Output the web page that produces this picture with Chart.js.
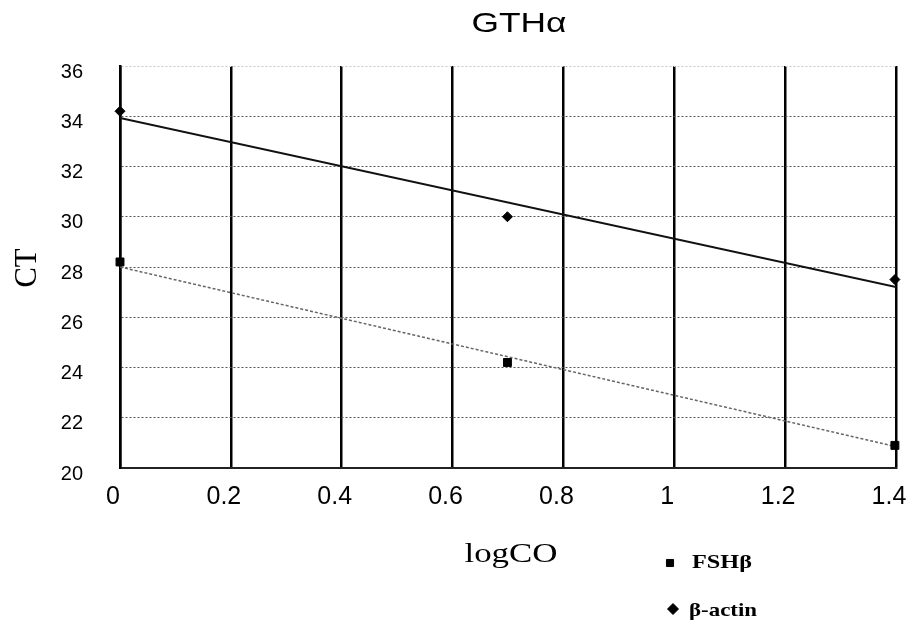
<!DOCTYPE html>
<html><head><meta charset="utf-8">
<style>html,body{margin:0;padding:0;background:#fff;} #wrap{width:918px;height:623px;position:relative;}</style>
<script src="https://cdn.jsdelivr.net/npm/chart.js@4.4.1/dist/chart.umd.min.js"></script>
</head><body><div id="wrap"><canvas id="c" width="918" height="623"></canvas></div>
<script>
const chartTitle = 'GTHα';
const xTitle = 'logCO';
const yTitle = 'CT';
const seriesLabels = ['FSHβ', 'β-actin'];
const logCO = [0, 0.699, 1.398];
const fshB = [28.2, 24.2, 20.9];
const bActin = [34.2, 30.0, 27.5];
const trendX = [0, 1.4];
const fshTrend = [28.0, 20.85];
const actinTrend = [33.93, 27.2];
const xTickValues = [0, 0.2, 0.4, 0.6, 0.8, 1, 1.2, 1.4];
const xTickLabels = ['0', '0.2', '0.4', '0.6', '0.8', '1', '1.2', '1.4'];
const yTickValues = [20, 22, 24, 26, 28, 30, 32, 34, 36];
const yTickLabels = ['20', '22', '24', '26', '28', '30', '32', '34', '36'];

const pts = (xs, ys) => xs.map((x, i) => ({x, y: ys[i]}));

// draw text stretched horizontally to a target width
function wideText(ctx, text, x, y, font, targetW, align) {
  ctx.font = font;
  ctx.textAlign = 'left';
  ctx.textBaseline = 'alphabetic';
  const w = ctx.measureText(text).width;
  const sx = targetW / w;
  const left = align === 'center' ? x - targetW / 2 : x;
  ctx.save();
  ctx.translate(left, y);
  ctx.scale(sx, 1);
  ctx.fillText(text, 0, 0);
  ctx.restore();
}

const textPlugin = {
  id: 'texts',
  afterDraw(chart) {
    const ctx = chart.ctx;
    ctx.save();
    ctx.fillStyle = '#000';
    wideText(ctx, chartTitle, 519, 32, '28px "Liberation Sans", Arial, sans-serif', 95, 'center');
    wideText(ctx, xTitle, 511, 562, '28px "Liberation Serif", "Times New Roman", serif', 93, 'center');
    ctx.save();
    ctx.translate(36, 268);
    ctx.rotate(-Math.PI / 2);
    wideText(ctx, yTitle, 0, 0, '32px "Liberation Serif", "Times New Roman", serif', 39, 'center');
    ctx.restore();
    const legendRows = [
      {ds: 0, mx: 670, my: 563, mr: 5, tx: 692, ty: 568, w: 60},
      {ds: 1, mx: 673, my: 609, mr: 5.5, tx: 689, ty: 616, w: 68}
    ];
    legendRows.forEach(r => {
      const ds = chart.data.datasets[r.ds];
      ctx.fillStyle = '#000';
      ctx.strokeStyle = '#000';
      ctx.lineWidth = 1;
      Chart.helpers.drawPoint(ctx, {pointStyle: ds.pointStyle, radius: r.mr, borderWidth: 1, rotation: 0}, r.mx, r.my);
      ctx.fillStyle = '#000';
      wideText(ctx, ds.label, r.tx, r.ty, 'bold 19px "Liberation Serif", "Times New Roman", serif', r.w, 'left');
    });
    ctx.restore();
  }
};

new Chart(document.getElementById('c'), {
  type: 'scatter',
  data: {
    datasets: [
      {label: seriesLabels[0], data: pts(logCO, fshB), pointStyle: 'rect', pointRadius: 5.6, pointHoverRadius: 5.6,
       backgroundColor: '#000', borderColor: '#000', borderWidth: 1, order: 0, clip: false},
      {label: seriesLabels[1], data: pts(logCO, bActin), pointStyle: 'rectRot', pointRadius: 5, pointHoverRadius: 5,
       backgroundColor: '#000', borderColor: '#000', borderWidth: 1, order: 0, clip: false},
      {label: 'FSHβ trend', type: 'line', data: pts(trendX, fshTrend), borderColor: '#666', borderWidth: 1.5,
       borderDash: [3, 2], pointRadius: 0, fill: false, order: 1},
      {label: 'β-actin trend', type: 'line', data: pts(trendX, actinTrend), borderColor: '#111', borderWidth: 2,
       pointRadius: 0, fill: false, order: 1}
    ]
  },
  options: {
    responsive: false,
    animation: false,
    devicePixelRatio: 1,
    layout: {padding: {top: 66, right: 22, left: 0, bottom: 0}},
    plugins: {legend: {display: false}, title: {display: false}, tooltip: {enabled: false}},
    scales: {
      x: {
        type: 'linear', min: 0, max: 1.4,
        afterBuildTicks: s => { s.ticks = xTickValues.map(v => ({value: v})); },
        afterFit: s => { s.height = 155; s.paddingRight = 0; s.paddingLeft = 0; },
        ticks: {
          callback: (v, i) => xTickLabels[i],
          font: {family: '"Liberation Sans", Arial, sans-serif', size: 25},
          color: '#000', padding: 14, labelOffset: -7, maxRotation: 0, autoSkip: false
        },
        grid: {color: '#000', lineWidth: 2.5, drawTicks: false},
        border: {display: true, color: '#222', width: 2}
      },
      y: {
        type: 'linear', min: 20, max: 36,
        afterBuildTicks: s => { s.ticks = yTickValues.map(v => ({value: v})); },
        afterFit: s => { s.width = 120; s.paddingTop = 0; s.paddingBottom = 0; },
        ticks: {
          callback: (v, i) => yTickLabels[i],
          font: {family: '"Liberation Sans", Arial, sans-serif', size: 20},
          color: '#000', padding: 37, labelOffset: 6
        },
        grid: {color: c => (c.tick && c.tick.value === 36) ? '#c8c8c8' : '#555', lineWidth: 1, drawTicks: false},
        border: {display: true, color: '#000', width: 2.5, dash: [2, 2]}
      }
    }
  },
  plugins: [textPlugin]
});
</script>
</body></html>
